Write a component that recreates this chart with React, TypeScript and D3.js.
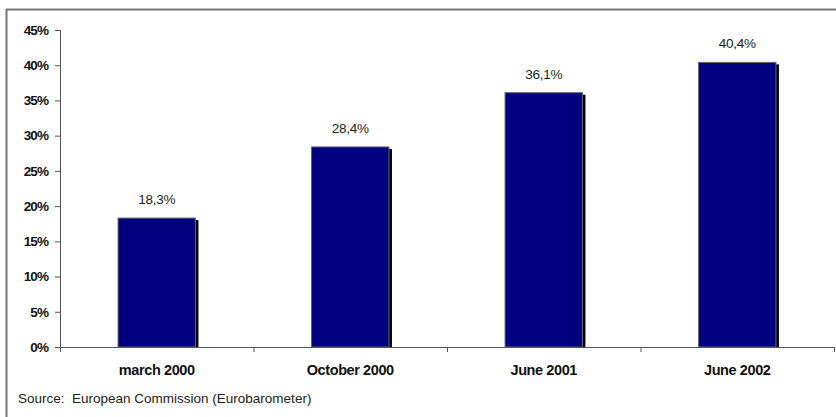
import React from "react";
import * as d3 from "d3";

const categories = ["march 2000", "October 2000", "June 2001", "June 2002"];
const values = [18.3, 28.4, 36.1, 40.4];
const valueLabels = ["18,3%", "28,4%", "36,1%", "40,4%"];
const yTicks = [0, 5, 10, 15, 20, 25, 30, 35, 40, 45];
const source = "Source:\u00a0\u00a0European Commission (Eurobarometer)";

export default function App() {
  const W = 836, H = 417;
  const x = d3.scaleBand<string>().domain(categories).range([60, 834]).padding(0);
  const y = d3.scaleLinear().domain([0, 45]).range([347, 30]);
  const bw = x.bandwidth() * 0.4;
  const font = "'Liberation Sans', Arial, sans-serif";
  return (
    <svg width={W} height={H} style={{ position: "absolute", left: 0, top: 0 }}>
      <rect x={0} y={0} width={W} height={H} fill="#fff" />
      <path d={`M6.5,${H} V9.5 H${W}`} fill="none" stroke="#777" strokeWidth={2} />
      {/* y axis */}
      <line x1={60.5} x2={60.5} y1={y(45)} y2={y(0)} stroke="#555" strokeWidth={1} />
      {yTicks.map((t) => (
        <g key={t}>
          <line x1={55} x2={60} y1={y(t) + 0.5} y2={y(t) + 0.5} stroke="#555" />
          <text x={48} y={y(t)} dy="0.35em" textAnchor="end" fontFamily={font} fontWeight="bold" fontSize={13.5} letterSpacing={-0.9} fill="#111">
            {t}%
          </text>
        </g>
      ))}
      {/* bars */}
      {categories.map((c, i) => {
        const cx = (x(c) as number) + x.bandwidth() / 2;
        const x0 = cx - bw / 2;
        const top = y(values[i]);
        return (
          <g key={c}>
            <rect x={x0 + 3} y={top + 2} width={bw} height={y(0) - top - 2} fill="#000" />
            <rect x={x0} y={top} width={bw} height={y(0) - top} fill="#000080" stroke="#666" strokeWidth={1} />
            <text x={cx} y={top - 14} textAnchor="middle" fontFamily={font} fontSize={13.5} letterSpacing={-0.3} fill="#222">
              {valueLabels[i]}
            </text>
            <text x={cx} y={y(0) + 28} textAnchor="middle" fontFamily={font} fontWeight="bold" fontSize={14.5} letterSpacing={-0.4} fill="#111">
              {c}
            </text>
          </g>
        );
      })}
      {/* x axis */}
      <line x1={60} x2={834} y1={y(0) + 0.5} y2={y(0) + 0.5} stroke="#555" />
      {[...categories.map((c) => x(c) as number), 834].map((b, i) => (
        <line key={i} x1={b + 0.5} x2={b + 0.5} y1={y(0)} y2={y(0) + 5} stroke="#555" />
      ))}
      <text x={18} y={403} fontFamily={font} fontSize={13.5} letterSpacing={0} fill="#222">
        {source}
      </text>
    </svg>
  );
}
